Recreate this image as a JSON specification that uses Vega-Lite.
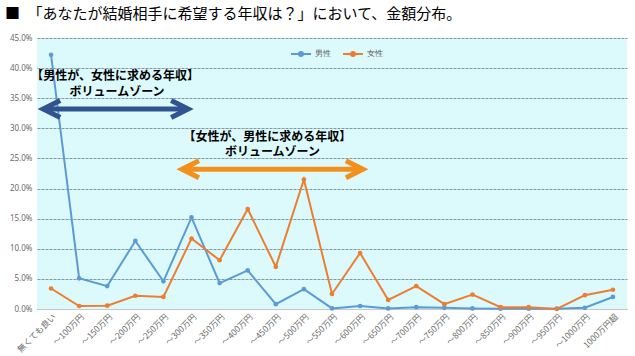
{
  "$schema": "https://vega.github.io/schema/vega-lite/v6.json",
  "width": 590,
  "height": 271,
  "autosize": {"type": "none"},
  "padding": {"left": 37, "top": 38, "right": 8, "bottom": 47},
  "background": "white",
  "title": {
    "text": "■　「あなたが結婚相手に希望する年収は？」において、金額分布。",
    "anchor": "start",
    "frame": "group",
    "dx": -32,
    "fontSize": 15,
    "fontWeight": "normal",
    "font": "Noto Sans CJK JP",
    "color": "#000000",
    "offset": 12
  },
  "config": {
    "view": {"fill": "#dcfafc", "stroke": null},
    "font": "Noto Sans",
    "axis": {"labelColor": "#6b6b6b", "labelFont": "Noto Sans"}
  },
  "datasets": {
    "s": [
      {"cat": "無くても良い", "sex": "男性", "v": 0.422},
      {"cat": "～100万円", "sex": "男性", "v": 0.051},
      {"cat": "～150万円", "sex": "男性", "v": 0.038},
      {"cat": "～200万円", "sex": "男性", "v": 0.113},
      {"cat": "～250万円", "sex": "男性", "v": 0.046},
      {"cat": "～300万円", "sex": "男性", "v": 0.152},
      {"cat": "～350万円", "sex": "男性", "v": 0.043},
      {"cat": "～400万円", "sex": "男性", "v": 0.064},
      {"cat": "～450万円", "sex": "男性", "v": 0.008},
      {"cat": "～500万円", "sex": "男性", "v": 0.033},
      {"cat": "～550万円", "sex": "男性", "v": 0.001},
      {"cat": "～600万円", "sex": "男性", "v": 0.005},
      {"cat": "～650万円", "sex": "男性", "v": 0.001},
      {"cat": "～700万円", "sex": "男性", "v": 0.003},
      {"cat": "～750万円", "sex": "男性", "v": 0.002},
      {"cat": "～800万円", "sex": "男性", "v": 0.001},
      {"cat": "～850万円", "sex": "男性", "v": 0.0005},
      {"cat": "～900万円", "sex": "男性", "v": 0.0005},
      {"cat": "～950万円", "sex": "男性", "v": 0.0005},
      {"cat": "～1000万円", "sex": "男性", "v": 0.002},
      {"cat": "1000万円超", "sex": "男性", "v": 0.020},
      {"cat": "無くても良い", "sex": "女性", "v": 0.034},
      {"cat": "～100万円", "sex": "女性", "v": 0.005},
      {"cat": "～150万円", "sex": "女性", "v": 0.0055},
      {"cat": "～200万円", "sex": "女性", "v": 0.022},
      {"cat": "～250万円", "sex": "女性", "v": 0.020},
      {"cat": "～300万円", "sex": "女性", "v": 0.117},
      {"cat": "～350万円", "sex": "女性", "v": 0.081},
      {"cat": "～400万円", "sex": "女性", "v": 0.166},
      {"cat": "～450万円", "sex": "女性", "v": 0.070},
      {"cat": "～500万円", "sex": "女性", "v": 0.215},
      {"cat": "～550万円", "sex": "女性", "v": 0.025},
      {"cat": "～600万円", "sex": "女性", "v": 0.093},
      {"cat": "～650万円", "sex": "女性", "v": 0.015},
      {"cat": "～700万円", "sex": "女性", "v": 0.038},
      {"cat": "～750万円", "sex": "女性", "v": 0.008},
      {"cat": "～800万円", "sex": "女性", "v": 0.024},
      {"cat": "～850万円", "sex": "女性", "v": 0.003},
      {"cat": "～900万円", "sex": "女性", "v": 0.003},
      {"cat": "～950万円", "sex": "女性", "v": 0.0},
      {"cat": "～1000万円", "sex": "女性", "v": 0.023},
      {"cat": "1000万円超", "sex": "女性", "v": 0.032}
    ],
    "arrows": [
      {"x1": -0.28, "x2": 4.88, "v": 0.332, "c": "b"},
      {"x1": 4.66, "x2": 11.1, "v": 0.232, "c": "o"}
    ],
    "labels": [
      {"x": 2.28, "v": 0.387, "t": "【男性が、女性に求める年収】"},
      {"x": 2.35, "v": 0.36, "t": "ボリュームゾーン"},
      {"x": 7.7, "v": 0.286, "t": "【女性が、男性に求める年収】"},
      {"x": 7.88, "v": 0.26, "t": "ボリュームゾーン"}
    ]
  },
  "resolve": {"scale": {"x": "independent"}},
  "encoding": {
    "y": {
      "field": "v", "type": "quantitative",
      "scale": {"domain": [0, 0.45], "nice": false},
      "axis": {
        "title": null, "format": ".1%", "values": [0, 0.05, 0.1, 0.15, 0.2, 0.25, 0.3, 0.35, 0.4, 0.45],
        "labelFontSize": 8, "ticks": false, "domain": false, "labelPadding": 5, "labelOverlap": false,
        "labelFlush": false,
        "gridColor": "#7f9aab", "gridDash": [3, 1], "gridWidth": 1
      }
    }
  },
  "layer": [
    {
      "data": {"name": "s"},
      "mark": {"type": "line", "strokeWidth": 2, "point": {"filled": true, "size": 22}},
      "encoding": {
        "x": {
          "field": "cat", "type": "ordinal", "sort": null,
          "scale": {"type": "point", "padding": 0.5},
          "axis": {
            "title": null, "labelAngle": -45, "labelFontSize": 8.5, "labelFont": "Noto Sans CJK JP", "ticks": false,
            "domain": true, "domainColor": "#c8c8c8", "grid": false, "labelPadding": 3, "labelOverlap": false
          }
        },
        "color": {
          "field": "sex", "type": "nominal",
          "scale": {"domain": ["男性", "女性"], "range": ["#5b9bd5", "#ed7d31"]},
          "legend": {
            "title": null, "orient": "none", "legendX": 253, "legendY": 5, "direction": "horizontal",
            "symbolType": "M-1,0L1,0M-0.2,0A0.2,0.2,0,1,1,0.2,0A0.2,0.2,0,1,1,-0.2,0",
            "symbolSize": 400, "symbolStrokeWidth": 2, "labelFontSize": 8, "labelColor": "#595959",
            "columnPadding": 8, "labelOffset": 3
          }
        }
      }
    },
    {
      "data": {"name": "arrows"},
      "mark": {"type": "rule", "strokeWidth": 5},
      "encoding": {
        "x": {"field": "x1", "type": "quantitative", "scale": {"domain": [-0.5, 20.5], "nice": false, "zero": false}, "axis": null},
        "x2": {"field": "x2"},
        "stroke": {"field": "c", "type": "nominal", "scale": {"domain": ["b", "o"], "range": ["#2f5490", "#f3901c"]}, "legend": null}
      }
    },
    {
      "data": {"name": "arrows"},
      "mark": {"type": "point", "shape": "M2,-1L0,0L2,1", "size": 289, "filled": false, "strokeWidth": 5, "opacity": 1, "strokeJoin": "miter"},
      "encoding": {
        "x": {"field": "x1", "type": "quantitative", "scale": {"domain": [-0.5, 20.5], "nice": false, "zero": false}, "axis": null},
        "stroke": {"field": "c", "type": "nominal", "legend": null}
      }
    },
    {
      "data": {"name": "arrows"},
      "mark": {"type": "point", "shape": "M-2,-1L0,0L-2,1", "size": 289, "filled": false, "strokeWidth": 5, "opacity": 1, "strokeJoin": "miter"},
      "encoding": {
        "x": {"field": "x2", "type": "quantitative", "scale": {"domain": [-0.5, 20.5], "nice": false, "zero": false}, "axis": null},
        "stroke": {"field": "c", "type": "nominal", "legend": null}
      }
    },
    {
      "data": {"name": "labels"},
      "mark": {"type": "text", "font": "Noto Sans CJK JP", "fontWeight": "bold", "fontSize": 12, "color": "#000000"},
      "encoding": {
        "x": {"field": "x", "type": "quantitative", "scale": {"domain": [-0.5, 20.5], "nice": false, "zero": false}, "axis": null},
        "text": {"field": "t"}
      }
    }
  ]
}
